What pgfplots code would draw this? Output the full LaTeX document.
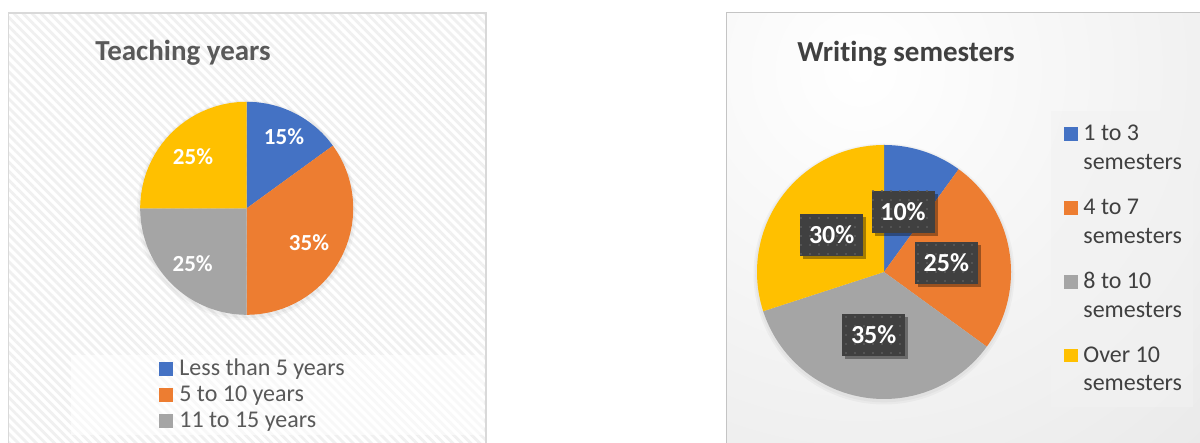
\documentclass[border=0pt]{standalone}
\usepackage{pgfplots}
\pgfplotsset{compat=1.18}
\usepackage{fontspec}
\setmainfont{Carlito}[Ligatures=NoCommon]
\usetikzlibrary{patterns.meta,shadows}
\definecolor{cBlue}{HTML}{4472C4}
\definecolor{cOrange}{HTML}{ED7D31}
\definecolor{cGray}{HTML}{A5A5A5}
\definecolor{cYellow}{HTML}{FFC000}
\definecolor{cStripe}{HTML}{F0F0F0}
\definecolor{cBorder}{HTML}{D9D9D9}
\definecolor{cBorderR}{HTML}{C4C4C4}
\definecolor{cGrad}{HTML}{D4D4D4}
\definecolor{cDark}{HTML}{404040}
\definecolor{cDot}{HTML}{5C5C5C}
\definecolor{cText}{HTML}{595959}
\definecolor{cLeg}{HTML}{F2F2F2}
% one pie slice: centre x, centre y, radius, start percentage, percentage, colour
\newcommand{\slice}[6]{\addplot[fill=#6, draw=none, domain={90-3.6*(#4+#5)}:{90-3.6*(#4)}, samples=90]
  ({#1+#3*cos(x)},{#2+#3*sin(x)}) -- (axis cs:#1,#2) -- cycle;}
\begin{document}
\begin{tikzpicture}[x=0.5pt,y=0.5pt]
\useasboundingbox (0,0) rectangle (1200,443);
\clip (0,0) rectangle (1200,443);
% ---------- left panel ----------
\fill[white] (8.5,-5) rectangle (486,430);
\fill[pattern={Lines[angle=-45,distance=3.2pt,line width=1.4pt]}, pattern color=cStripe] (8.5,-5) rectangle (486,430);
\draw[cBorder, line width=0.8pt] (8.5,-5) rectangle (486,430);
% ---------- right panel ----------
\begin{scope}
\clip (726.5,-5) rectangle (1205,430.5);
\shade[inner color=white, outer color=cGrad] (860,373) circle (1040);
\end{scope}
\draw[cBorderR, line width=0.8pt] (726.5,-5) rectangle (1205,430.5);
% soft pie shadows
\fill[black, opacity=0.03] (246.7,232.7) circle (110);
\fill[black, opacity=0.03] (246.7,233.2) circle (108.3);
\fill[black, opacity=0.03] (884,169) circle (130.5);
\fill[black, opacity=0.03] (884,169.5) circle (128.8);
% ---------- pies, in one axis spanning the canvas (1 unit = 1 px) ----------
\begin{axis}[at={(0,0)}, anchor=south west, hide axis, scale only axis,
  width=600pt, height=221.5pt, xmin=0, xmax=1200, ymin=0, ymax=443, clip=false]
% Teaching years: 15, 35, 25, 25
\slice{246.7}{234.7}{106.5}{0}{15}{cBlue}
\slice{246.7}{234.7}{106.5}{15}{35}{cOrange}
\slice{246.7}{234.7}{106.5}{50}{25}{cGray}
\slice{246.7}{234.7}{106.5}{75}{25}{cYellow}
% Writing semesters: 10, 25, 35, 30
\slice{884}{171}{127}{0}{10}{cBlue}
\slice{884}{171}{127}{10}{25}{cOrange}
\slice{884}{171}{127}{35}{35}{cGray}
\slice{884}{171}{127}{70}{30}{cYellow}
\end{axis}
% ---------- titles ----------
\node[anchor=base west, inner sep=0, text=cText, font=\fontsize{14.5}{17}\selectfont\bfseries] at (95,382) {Teaching years};
\node[anchor=base west, inner sep=0, text=cDark, font=\fontsize{14.5}{17}\selectfont\bfseries] at (797,381) {Writing semesters};
% ---------- left data labels ----------
\begin{scope}[every node/.style={text=white, inner sep=0, font=\fontsize{11.5}{14}\selectfont\bfseries}]
\node at (284,306.3) {15\%};
\node at (309,200) {35\%};
\node at (192.7,179) {25\%};
\node at (193,286.3) {25\%};
\end{scope}
% ---------- right data labels ----------
\tikzset{lbl/.style={drop shadow={shadow xshift=1.5pt, shadow yshift=-1.5pt, opacity=0.35, fill=black},
  preaction={fill=cDark}, pattern={Dots[distance=4.5pt,radius=0.55pt]}, pattern color=cDot,
  minimum width=31.5pt, minimum height=21pt, inner sep=0, text=white,
  font=\fontsize{13}{15}\selectfont\bfseries}}
\node[lbl] at (903,231) {10\%};
\node[lbl] at (831.7,208.2) {30\%};
\node[lbl] at (946.3,180.2) {25\%};
\node[lbl] at (873.7,108.2) {35\%};
% ---------- left legend ----------
\fill[white, opacity=0.55] (71,8) rectangle (484,88);
\begin{scope}[every node/.style={anchor=base west, inner sep=0, text=cText, font=\fontsize{12}{14}\selectfont}]
\fill[cBlue] (159,67.3) rectangle (172.7,81);
\node at (179,67.3) {Less than 5 years};
\fill[cOrange] (159,41.3) rectangle (172.7,55);
\node at (179,41.3) {5 to 10 years};
\fill[cGray] (159,15.3) rectangle (172.7,29);
\node at (179,15.3) {11 to 15 years};
\end{scope}
% ---------- right legend ----------
\fill[cLeg, opacity=0.6] (1051,36) rectangle (1192.7,332);
\begin{scope}[every node/.style={anchor=base west, inner sep=0, text=cDark, font=\fontsize{12}{14}\selectfont}]
\fill[cBlue] (1064,302.3) rectangle (1077.7,316);
\node at (1083,302.3) {1 to 3};
\node at (1083,273.7) {semesters};
\fill[cOrange] (1064,228.3) rectangle (1077.7,242);
\node at (1083,228.3) {4 to 7};
\node at (1083,199.7) {semesters};
\fill[cGray] (1064,154.3) rectangle (1077.7,168);
\node at (1083,154.3) {8 to 10};
\node at (1083,125.7) {semesters};
\fill[cYellow] (1064,80.7) rectangle (1077.7,94.4);
\node at (1083,80.7) {Over 10};
\node at (1083,52.1) {semesters};
\end{scope}
\end{tikzpicture}
\end{document}
